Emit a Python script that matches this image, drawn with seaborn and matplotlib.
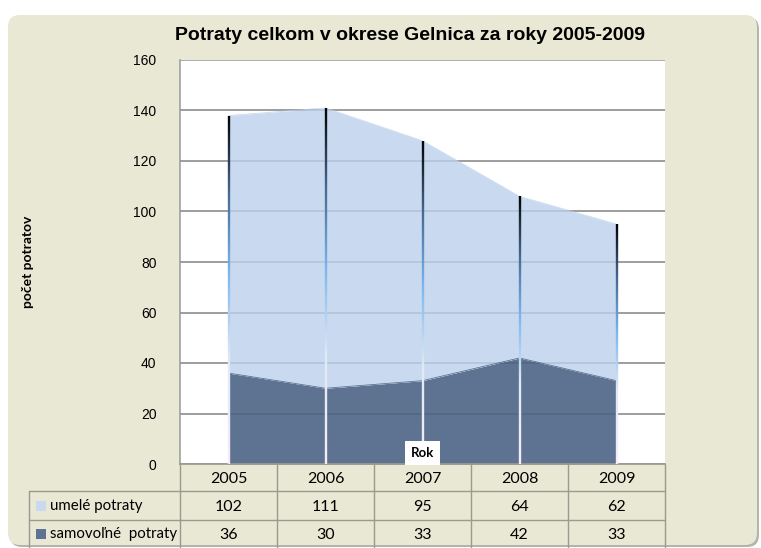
import numpy as np
import pandas as pd
import matplotlib
matplotlib.use("Agg")
import matplotlib.pyplot as plt
import seaborn as sns
from matplotlib.patches import FancyBboxPatch, Rectangle
from matplotlib.collections import LineCollection
from matplotlib.colors import LinearSegmentedColormap
from matplotlib.lines import Line2D
from matplotlib.transforms import Affine2D

# ---- data ----
years = ["2005", "2006", "2007", "2008", "2009"]
umele = [102, 111, 95, 64, 62]
samovolne = [36, 30, 33, 42, 33]
series_names = ["umelé potraty", "samovoľné  potraty"]
title = "Potraty celkom v okrese Gelnica za roky 2005-2009"
ylabel = "počet potratov"
xlabel = "Rok"
yticks = [0, 20, 40, 60, 80, 100, 120, 140, 160]

sns.set_theme(style="white")
plt.rcParams['font.family'] = ['Liberation Sans', 'DejaVu Sans']
plt.rcParams['text.color'] = 'black'
plt.rcParams['ytick.color'] = 'black'

W, H = 761, 548
fig = plt.figure(figsize=(W / 100, H / 100), dpi=100)
fig.patch.set_facecolor('white')
ptr = Affine2D().scale(1 / 100, -1 / 100).translate(0, H / 100) + fig.dpi_scale_trans

# background panel
shadow = FancyBboxPatch((0.10, 0.01), 7.49, 5.30, boxstyle="round,pad=0,rounding_size=0.12",
                        transform=fig.dpi_scale_trans, facecolor='#b4b4aa', edgecolor='none', zorder=-2)
panel = FancyBboxPatch((0.08, 0.03), 7.49, 5.30, boxstyle="round,pad=0,rounding_size=0.12",
                       transform=fig.dpi_scale_trans, facecolor='#e8e8d4', edgecolor='none', zorder=-1)
fig.patches.extend([shadow, panel])

ax = fig.add_axes([180 / W, (H - 464) / H, 485 / W, 404 / H])
ax.set_zorder(1)
ax.set_facecolor('white')

df = pd.DataFrame({"x": np.arange(len(years)), "rok": years,
                   "samovolne": samovolne, "umele": umele})
df["total"] = df["samovolne"] + df["umele"]

ax.fill_between(df["x"], 0, df["samovolne"], color='#5e7391', lw=0, zorder=2)
ax.fill_between(df["x"], df["samovolne"], df["total"], color='#c9daf0', lw=0, zorder=2)
sns.lineplot(data=df, x="x", y="total", ax=ax, color='#c9daf0', lw=0.6, zorder=2)
sns.lineplot(data=df, x="x", y="samovolne", ax=ax, color='#5e7391', lw=0.6, zorder=2)

ax.set_xlim(-0.5, len(years) - 0.5)
ax.set_ylim(0, 160)
ax.set_yticks(yticks)
ax.yaxis.grid(True, color='#a0a0a0', lw=1.2)
ax.set_axisbelow(True)
for t in yticks[1:-1]:
    ax.axhline(t, color='black', alpha=0.1, lw=1.2, zorder=3)

# gradient drop lines
cmap = LinearSegmentedColormap.from_list("drop", [(0, '#f6ecf6'), (0.3, '#dfe8f6'),
                                                  (0.55, '#7ab4ee'), (0.78, '#45678f'), (1.0, '#000000')])
for xi, tot in zip(df["x"], df["total"]):
    ys = np.linspace(0, tot, 120)
    segs = [[(xi, ys[k]), (xi, ys[k + 1])] for k in range(len(ys) - 1)]
    cols = cmap(ys[:-1] / tot)
    ax.add_collection(LineCollection(segs, colors=cols, linewidths=1.7, zorder=4))

ax.set_xticks([])
ax.set_xlabel("")
ax.set_ylabel("")
ax.tick_params(axis='y', length=0, pad=17, labelsize=10, labelcolor='black')
for s in ['top', 'right']:
    ax.spines[s].set_visible(False)
ax.spines['left'].set_color('#a0a0a0')
ax.spines['bottom'].set_color('#9a9a90')
ax.spines['left'].set_linewidth(1.2)

ax.text(2, 4.3, xlabel, ha='center', va='center', fontsize=9.5, fontweight='bold', family='Lato',
        bbox=dict(facecolor='white', edgecolor='none', pad=4.5), zorder=6)

fig.text(410 / W, 1 - 35 / H, title, ha='center', va='center', fontsize=14, fontweight='bold')
fig.text(28 / W, 1 - 262 / H, ylabel, rotation=90, ha='center', va='center', fontsize=10,
         fontweight='bold', family='Lato')

# ---- data table ----
lc = '#9a9a90'
fs = 11.5
col_edges = [ax.transData.transform((i - 0.5, 0))[0] for i in range(len(years) + 1)]
col_cent = [ax.transData.transform((i, 0))[0] for i in range(len(years))]
rows_y = [464, 491, 520, 547]
for xe in col_edges:
    fig.add_artist(Line2D([xe, xe], [464, 547], transform=ptr, color=lc, lw=1))
fig.add_artist(Line2D([29, 29], [491, 547], transform=ptr, color=lc, lw=1))
for yy in rows_y[1:3]:
    fig.add_artist(Line2D([29, col_edges[-1]], [yy, yy], transform=ptr, color=lc, lw=1))

for cx, yr, u, s in zip(col_cent, years, umele, samovolne):
    fig.text(cx, 479, yr, transform=ptr, ha='center', va='center', fontsize=fs, family='Lato')
    fig.text(cx, 507, str(u), transform=ptr, ha='center', va='center', fontsize=fs, family='Lato')
    fig.text(cx, 535, str(s), transform=ptr, ha='center', va='center', fontsize=fs, family='Lato')

for name, col, yc in zip(series_names, ['#c9daf0', '#5e7391'], [506, 534]):
    fig.add_artist(Rectangle((36, yc - 5), 10, 10, transform=ptr, facecolor=col, edgecolor='none'))
    fig.text(50, yc, name, transform=ptr, ha='left', va='center', fontsize=10.8, family='Lato')

fig.savefig("out.png", dpi=100, facecolor='white')
